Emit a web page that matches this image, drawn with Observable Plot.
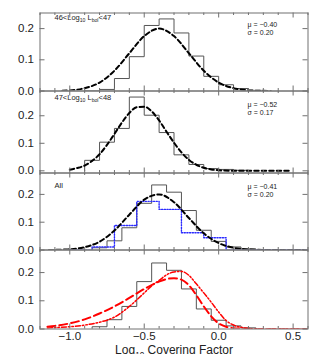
<!DOCTYPE html>
<html><head><meta charset="utf-8">
<script src="https://cdn.jsdelivr.net/npm/d3@7"></script>
<script src="https://cdn.jsdelivr.net/npm/@observablehq/plot@0.6"></script>
<style>
html,body{margin:0;padding:0;background:#fff;}
#chart{width:319px;height:354px;overflow:hidden;font-family:"Liberation Sans",Arial,Helvetica,sans-serif;}
#chart svg{display:block;overflow:visible;}
#chart svg+svg{margin-top:-1px;}
</style></head><body><div id="chart"></div>
<script>
// ---------------- data ----------------
const xTicks = [-1.0, -0.5, 0.0, 0.5];
const xMinorTicks = [-1.2,-1.1,-0.9,-0.8,-0.7,-0.6,-0.4,-0.3,-0.2,-0.1,0.1,0.2,0.3,0.4,0.6];
const yTicks = [0.0, 0.1, 0.2];

const panelLabels = ["46<Log_{10} L_{bol}<47", "47<Log_{10} L_{bol}<48", "All"];
const muLabels = ["μ = −0.40", "μ = −0.52", "μ = −0.41"];
const sigmaLabels = ["σ = 0.20", "σ = 0.17", "σ = 0.20"];
const xLabel = "Log_{10} Covering Factor";

// histograms: left bin edges and heights
const hist1Edges = [-0.9,-0.8,-0.7,-0.6,-0.5,-0.4,-0.3,-0.2,-0.1,0.0,0.1,0.2];
const hist1Values = [0.001,0.005,0.040,0.110,0.210,0.231,0.186,0.112,0.047,0.020,0.008,0.002];
const hist2Edges = [-0.9,-0.8,-0.7,-0.6,-0.5,-0.4,-0.3,-0.2,-0.1,0.0,0.1];
const hist2Values = [0.038,0.104,0.154,0.268,0.202,0.139,0.058,0.023,0.008,0.005,0.002];
const histAllEdges = [-0.85,-0.75,-0.65,-0.55,-0.45,-0.35,-0.25,-0.15,-0.05,0.05,0.15];
const histAllValues = [0.008,0.033,0.080,0.168,0.234,0.208,0.142,0.071,0.031,0.011,0.004];
const histBlueEdges = [-1.0,-0.85,-0.70,-0.55,-0.40,-0.25,-0.10,0.05,0.20,0.35,0.50];
const histBlueValues = [0,0.011,0.088,0.175,0.146,0.062,0.044,0,0,0,0];

// fitted curves
const fit1X = [-1.05,-1.0,-0.9,-0.8,-0.7,-0.6,-0.5,-0.4,-0.3,-0.2,-0.1,0.0,0.1,0.2,0.3,0.35];
const fit1Y = [0.001,0.002,0.009,0.027,0.065,0.121,0.176,0.200,0.176,0.121,0.065,0.027,0.009,0.002,0.0005,0.0002];
const fit2X = [-1.0,-0.95,-0.9,-0.85,-0.8,-0.75,-0.7,-0.65,-0.6,-0.55,-0.5,-0.45,-0.4,-0.35,-0.3,-0.25,-0.2,-0.15,-0.1,-0.05,0.0,0.1,0.2,0.3,0.48];
const fit2Y = [0.004,0.010,0.019,0.036,0.060,0.094,0.134,0.175,0.210,0.231,0.233,0.216,0.183,0.142,0.102,0.067,0.040,0.022,0.011,0.005,0.002,0.0003,0,0,0];
const fitAllX = [-1.14,-1.1,-1.0,-0.9,-0.8,-0.7,-0.6,-0.5,-0.4,-0.3,-0.2,-0.1,0.0,0.1,0.2,0.3,0.4,0.57];
const fitAllY = [0.0003,0.0005,0.0026,0.010,0.030,0.070,0.127,0.181,0.200,0.172,0.115,0.060,0.025,0.008,0.002,0.0004,0,0];
const redDashX = [-1.15,-1.1,-1.0,-0.9,-0.8,-0.7,-0.6,-0.5,-0.4,-0.35,-0.3,-0.25,-0.2,-0.15,-0.1,-0.05,0.0,0.05,0.1,0.2,0.3,0.45,0.6];
const redDashY = [0.008,0.011,0.020,0.034,0.055,0.080,0.110,0.142,0.168,0.177,0.180,0.175,0.155,0.120,0.080,0.045,0.020,0.008,0.003,0.0005,0,0,0];
const redDotX = [-1.15,-1.1,-1.0,-0.9,-0.8,-0.7,-0.6,-0.5,-0.45,-0.4,-0.35,-0.3,-0.25,-0.2,-0.15,-0.1,-0.05,0.0,0.05,0.1,0.15,0.2,0.3,0.45,0.6];
const redDotY = [0.003,0.005,0.008,0.014,0.024,0.042,0.080,0.128,0.153,0.172,0.192,0.202,0.204,0.190,0.160,0.128,0.095,0.060,0.030,0.014,0.006,0.002,0,0,0];

// ---------------- helpers ----------------
const W = 319, ML = 39.5, MR = 11.5;
const xDomain = [-1.2, 0.6];
const frameColor = "#707070", histColor = "#555";

function stepPoints(edges, values, w) {
  const pts = [{x: edges[0], y: 0}];
  edges.forEach((e, i) => pts.push({x: e, y: values[i]}));
  const end = edges[edges.length - 1] + w;
  pts.push({x: end, y: values[values.length - 1]});
  pts.push({x: end, y: 0});
  return pts;
}
const zip = (xs, ys) => xs.map((x, i) => ({x, y: ys[i]}));

const cfg = [
  {h: 91, mt: 12.5, mb: 0.5, yd: [0, 0.25], lab: 4.5, mu: 12.2, sg: 20.2},
  {h: 83, mt: 0.5, mb: 0.5, yd: [-0.008, 0.29], lab: 6.8, mu: 13.6, sg: 21.4},
  {h: 78, mt: 0.5, mb: 0.5, yd: [0, 0.277], lab: 12.5, mu: 14, sg: 21.8},
  {h: 105, mt: 0.5, mb: 25.5, yd: [0, 0.28]}
];

function tickMarks(c) {
  const ph = c.h - c.mt - c.mb;
  const [y0, y1] = c.yd;
  const ky = (y1 - y0) / ph;
  const kx = (xDomain[1] - xDomain[0]) / (W - ML - MR);
  const s = {stroke: frameColor, strokeWidth: 1};
  return [
    Plot.ruleX(xTicks, {...s, y1: () => y0, y2: () => y0 + 5 * ky}),
    Plot.ruleX(xTicks, {...s, y1: () => y1, y2: () => y1 - 5 * ky}),
    Plot.ruleX(xMinorTicks, {...s, y1: () => y0, y2: () => y0 + 2.5 * ky}),
    Plot.ruleX(xMinorTicks, {...s, y1: () => y1, y2: () => y1 - 2.5 * ky}),
    Plot.ruleY(yTicks, {...s, x1: () => xDomain[0], x2: () => xDomain[0] + 5 * kx}),
    Plot.ruleY(yTicks, {...s, x1: () => xDomain[1], x2: () => xDomain[1] - 5 * kx})
  ];
}

function textMarks(i, c) {
  const t = {frameAnchor: "top-left", textAnchor: "start", lineAnchor: "middle", fontSize: 7, fill: "#222"};
  return [
    Plot.text([panelLabels[i]], {...t, fontSize: 7.5, text: d => d, dx: 14.5, dy: c.lab}),
    Plot.text([muLabels[i]], {...t, text: d => d, dx: 207.5, dy: c.mu}),
    Plot.text([sigmaLabels[i]], {...t, text: d => d, dx: 207.5, dy: c.sg})
  ];
}

const histLine = (pts) => Plot.line(pts, {x: "x", y: "y", curve: "step-after", stroke: histColor, strokeWidth: 1, clip: true});
const blackFit = (pts) => Plot.line(pts, {x: "x", y: "y", curve: "monotone-x", stroke: "#000", strokeWidth: 2, strokeDasharray: "4.5,3", clip: true});

const panelMarks = [
  [histLine(stepPoints(hist1Edges, hist1Values, 0.1)), blackFit(zip(fit1X, fit1Y))],
  [histLine(stepPoints(hist2Edges, hist2Values, 0.1)), blackFit(zip(fit2X, fit2Y))],
  [histLine(stepPoints(histAllEdges, histAllValues, 0.1)),
   Plot.line(stepPoints(histBlueEdges, histBlueValues, 0.15), {x: "x", y: "y", curve: "step-after", stroke: "#2a2aff", strokeWidth: 1.4, strokeDasharray: "1.2,1.5", clip: true}),
   blackFit(zip(fitAllX, fitAllY))],
  [histLine(stepPoints(histAllEdges, histAllValues, 0.1)),
   Plot.line(zip(redDashX, redDashY), {x: "x", y: "y", curve: "monotone-x", stroke: "#ff0000", strokeWidth: 2, strokeDasharray: "8,4", clip: true}),
   Plot.line(zip(redDotX, redDotY), {x: "x", y: "y", curve: "monotone-x", stroke: "#ff0000", strokeWidth: 1.5, strokeDasharray: "5,2,1.5,2,1.5,2", clip: true})]
];

const chart = document.getElementById("chart");
cfg.forEach((c, i) => {
  const last = i === 3;
  const marks = [
    ...panelMarks[i],
    ...tickMarks(c),
    Plot.frame({stroke: frameColor, strokeWidth: 1})
  ];
  if (i < 3) marks.push(...textMarks(i, c));
  if (last) marks.push(Plot.text([xLabel], {text: d => d, frameAnchor: "bottom", dy: 21.5, lineAnchor: "middle", textAnchor: "middle", fontSize: 12, fill: "#222"}));
  const svg = Plot.plot({
    width: W, height: c.h,
    marginLeft: ML, marginRight: MR, marginTop: c.mt, marginBottom: c.mb,
    style: {background: "transparent", overflow: "visible", fontFamily: "'Liberation Sans', Arial, Helvetica, sans-serif", fontSize: "11.5px", color: "#222"},
    x: last
      ? {domain: xDomain, ticks: xTicks, tickSize: 0, tickPadding: 3, tickFormat: d3.format(".1f"), label: null}
      : {domain: xDomain, axis: null},
    y: {domain: c.yd, ticks: yTicks, tickSize: 0, tickPadding: 6, tickFormat: d3.format(".1f"), label: null},
    marks
  });
  chart.appendChild(svg);
});

// turn _{...} into subscripts
d3.select(chart).selectAll("text").each(function() {
  const s = this.textContent;
  if (!s.includes("_{")) return;
  const fs = parseFloat(getComputedStyle(this).fontSize) || 10;
  const shift = fs * 0.3;
  const parts = s.split(/_\{([^}]*)\}/);
  const el = d3.select(this);
  el.text(null);
  let down = false;
  parts.forEach((p, k) => {
    if (p === "") return;
    const ts = el.append("tspan").text(p);
    if (k % 2 === 1) {
      ts.attr("font-size", fs * 0.68).attr("dy", down ? 0 : shift);
      down = true;
    } else {
      if (down) ts.attr("dy", -shift);
      down = false;
    }
  });
});
</script>
</body></html>
